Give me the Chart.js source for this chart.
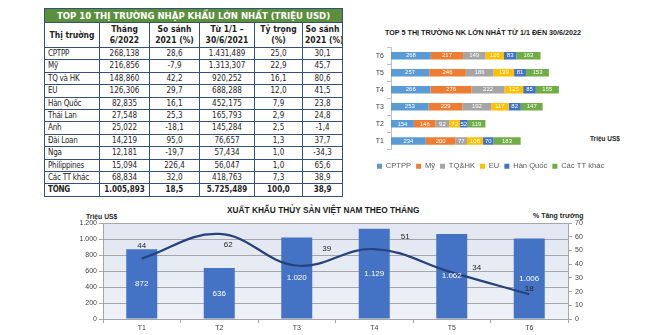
<!DOCTYPE html>
<html>
<head>
<meta charset="utf-8">
<script src="https://cdn.jsdelivr.net/npm/chart.js@4.4.0/dist/chart.umd.min.js"></script>
<style>
    body { margin: 0; width: 650px; height: 335px; background: #fff; position: relative; overflow: hidden; font-family: "Liberation Sans", Arial, sans-serif; }
    .abs { position: absolute; white-space: nowrap; line-height: 1; }
    #tbl { position: absolute; left: 44px; top: 8px; border-collapse: collapse; table-layout: fixed; width: 298px;
           font-family: "Liberation Sans Narrow", "DejaVu Sans Condensed", sans-serif; font-size: 8px; color: #1e1e1e; }
    #tbl td, #tbl th { border: 1px solid #35507c; padding: 0 2px; text-align: center; overflow: hidden; white-space: nowrap; }
    #tbl th.title { background: #5a8f3c; color: #fff; font-size: 9.5px; height: 13px; line-height: 13px; }
    #tbl th.head { height: 24px; font-size: 8.5px; line-height: 11px; }
    #tbl td { height: 11.4px; line-height: 11.4px; }
    #tbl td.name { text-align: left; padding-left: 3px; letter-spacing: -0.25px; }
    #tbl tr.total td { font-weight: bold; }
    canvas { position: absolute; }
</style>
</head>
<body>

<table id="tbl">
    <colgroup>
        <col style="width:55px"><col style="width:50px"><col style="width:50px"><col style="width:55px"><col style="width:48px"><col style="width:40px">
    </colgroup>
    <thead>
        <tr><th class="title" colspan="6">TOP 10 THỊ TRƯỜNG NHẬP KHẨU LỚN NHẤT (TRIỆU USD)</th></tr>
        <tr>
            <th class="head">Thị trường</th>
            <th class="head">Tháng<br>6/2022</th>
            <th class="head">So sánh<br>2021 (%)</th>
            <th class="head">Từ 1/1 –<br>30/6/2021</th>
            <th class="head">Tỷ trọng<br>(%)</th>
            <th class="head">So sánh<br>2021 (%)</th>
        </tr>
    </thead>
    <tbody id="rows"></tbody>
</table>

<div class="abs" style="left:385px;top:29px;font-size:7.2px;font-weight:bold;color:#1a1a1a;">TOP 5 THỊ TRƯỜNG NK LỚN NHẤT TỪ 1/1 ĐẾN 30/6/2022</div>
<div class="abs" style="left:590px;top:136px;font-size:6.5px;font-weight:bold;color:#262626;">Triệu US$</div>
<canvas id="top5" width="290" height="140" style="left:360px;top:40px;"></canvas>

<div class="abs" style="left:227px;top:206px;font-size:8.3px;font-weight:bold;color:#1a1a1a;">XUẤT KHẨU THỦY SẢN VIỆT NAM THEO THÁNG</div>
<div class="abs" style="left:86px;top:214px;font-size:6.8px;font-weight:bold;color:#262626;">Triệu US$</div>
<div class="abs" style="left:533px;top:212px;font-size:7px;font-weight:bold;color:#262626;">% Tăng trưởng</div>
<canvas id="monthly" width="650" height="135" style="left:0;top:200px;"></canvas>

<script>
// table data (triệu USD)
const markets = ['CPTPP', 'Mỹ', 'TQ và HK', 'EU', 'Hàn Quốc', 'Thái Lan', 'Anh', 'Đài Loan', 'Nga', 'Philippines', 'Các TT khác'];
const june2022 = [268.138, 216.856, 148.860, 126.306, 82.835, 27.548, 25.022, 14.219, 12.181, 15.094, 68.834];
const juneChange = [28.6, -7.9, 42.2, 29.7, 16.1, 25.3, -18.1, 95.0, -19.7, 226.4, 32.0];
const halfYear = [1431.489, 1313.307, 920.252, 688.288, 452.175, 165.793, 145.284, 76.657, 57.434, 56.047, 418.763];
const sharePct = [25.0, 22.9, 16.1, 12.0, 7.9, 2.9, 2.5, 1.3, 1.0, 1.0, 7.3];
const halfChange = [30.1, 45.7, 80.6, 41.5, 23.8, 24.8, -1.4, 37.7, -34.3, 65.6, 38.9];
const totalRow = [1005.893, 18.5, 5725.489, 100.0, 38.9];

// top 5 markets per month
const months = ['T1', 'T2', 'T3', 'T4', 'T5', 'T6'];
const regions = ['CPTPP', 'Mỹ', 'TQ&HK', 'EU', 'Hàn Quốc', 'Các TT khác'];
const cptpp = [234, 154, 253, 266, 257, 268];
const usa = [200, 146, 229, 276, 246, 217];
const chinaHk = [77, 92, 192, 222, 186, 149];
const eu = [108, 72, 117, 125, 139, 126];
const korea = [70, 52, 82, 85, 81, 83];
const others = [183, 119, 147, 155, 153, 163];
const stackTicks = [0, 500, 1000, 1500];

// monthly exports
const exportValue = [872, 636, 1020, 1129, 1062, 1006];
const growthPct = [44, 62, 39, 51, 34, 18];

const regionColors = ['#5B9BD5', '#ED7D31', '#A5A5A5', '#FFC000', '#4472C4', '#70AD47'];
const growthLabelOffset = [[0, -13], [9, 11], [30, -17], [31, -12], [25, -5], [0, -6]];

function fmtNum(v, d) {
    var parts = Math.abs(v).toFixed(d).split('.');
    parts[0] = parts[0].replace(/\B(?=(\d{3})+(?!\d))/g, '.');
    return (v < 0 ? '-' : '') + parts.join(',');
}

// fill table
var tbody = document.getElementById('rows');
markets.forEach(function (m, i) {
    var tr = document.createElement('tr');
    tr.innerHTML = '<td class="name">' + m + '</td>' +
        '<td>' + fmtNum(june2022[i], 3) + '</td>' +
        '<td>' + fmtNum(juneChange[i], 1) + '</td>' +
        '<td>' + fmtNum(halfYear[i], 3) + '</td>' +
        '<td>' + fmtNum(sharePct[i], 1) + '</td>' +
        '<td>' + fmtNum(halfChange[i], 1) + '</td>';
    tbody.appendChild(tr);
});
var trTotal = document.createElement('tr');
trTotal.className = 'total';
trTotal.innerHTML = '<td class="name">TỔNG</td>' +
    '<td>' + fmtNum(totalRow[0], 3) + '</td>' +
    '<td>' + fmtNum(totalRow[1], 1) + '</td>' +
    '<td>' + fmtNum(totalRow[2], 3) + '</td>' +
    '<td>' + fmtNum(totalRow[3], 1) + '</td>' +
    '<td>' + fmtNum(totalRow[4], 1) + '</td>';
tbody.appendChild(trTotal);

// white numbers inside stacked segments
const stackLabels = {
    id: 'stackLabels',
    afterDatasetsDraw(chart) {
        const ctx = chart.ctx;
        ctx.save();
        ctx.font = '6px "Liberation Sans", Arial, sans-serif';
        ctx.fillStyle = '#fff';
        ctx.textAlign = 'center';
        ctx.textBaseline = 'middle';
        chart.data.datasets.forEach((ds, i) => {
            chart.getDatasetMeta(i).data.forEach((bar, j) => {
                ctx.fillText(ds.data[j], (bar.x + bar.base) / 2, bar.y);
            });
        });
        ctx.restore();
    }
};

const stackValues = [cptpp, usa, chinaHk, eu, korea, others];

new Chart(document.getElementById('top5'), {
    type: 'bar',
    data: {
        labels: months,
        datasets: regions.map((r, i) => ({
            label: r,
            data: stackValues[i],
            backgroundColor: regionColors[i],
            barPercentage: 0.44,
            categoryPercentage: 1
        }))
    },
    options: {
        indexAxis: 'y',
        responsive: false,
        animation: false,
        layout: { padding: { top: 4.5, right: 36, left: 12, bottom: 0 } },
        scales: {
            x: {
                stacked: true, min: stackTicks[0], max: stackTicks[stackTicks.length - 1],
                afterBuildTicks: s => { s.ticks = stackTicks.map(v => ({ value: v })); },
                ticks: { callback: v => fmtNum(v, 0), font: { size: 7 }, color: '#595959', padding: 3 },
                grid: { display: false },
                border: { display: false },
                afterFit: s => { s.height = 8; }
            },
            y: {
                stacked: true, reverse: true,
                ticks: { font: { size: 7 }, color: '#404040', padding: 3 },
                grid: { drawOnChartArea: false, tickLength: 4, color: '#BFBFBF' },
                border: { color: '#BFBFBF' },
                afterFit: s => { s.width = 19; }
            }
        },
        plugins: {
            legend: {
                position: 'bottom',
                align: 'start',
                labels: { boxWidth: 5, boxHeight: 5, padding: 5, font: { size: 7.6 }, color: '#595959' }
            },
            tooltip: { enabled: false }
        }
    },
    plugins: [stackLabels]
});

// lavender plot background
const plotBg = {
    id: 'plotBg',
    beforeDraw(chart) {
        const { ctx, chartArea: a } = chart;
        const g = ctx.createLinearGradient(0, a.top, 0, a.bottom);
        g.addColorStop(0, '#E1E6F1');
        g.addColorStop(1, '#EEF1F7');
        ctx.save();
        ctx.fillStyle = g;
        ctx.fillRect(a.left, a.top, a.right - a.left, a.bottom - a.top);
        ctx.restore();
    }
};

const monthLabels = {
    id: 'monthLabels',
    afterDatasetsDraw(chart) {
        const ctx = chart.ctx;
        ctx.save();
        ctx.textAlign = 'center';
        ctx.textBaseline = 'middle';
        ctx.font = '8px "Liberation Sans", Arial, sans-serif';
        ctx.fillStyle = '#fff';
        chart.getDatasetMeta(1).data.forEach((bar, j) => {
            ctx.fillText(fmtNum(exportValue[j], 0), bar.x, (bar.y + bar.base) / 2);
        });
        ctx.fillStyle = '#262626';
        chart.getDatasetMeta(0).data.forEach((pt, j) => {
            const off = growthLabelOffset[j];
            ctx.fillText(growthPct[j], pt.x + off[0], pt.y + off[1]);
        });
        ctx.restore();
    }
};

new Chart(document.getElementById('monthly'), {
    type: 'bar',
    data: {
        labels: months,
        datasets: [{
            type: 'line',
            label: '% Tăng trưởng',
            data: growthPct,
            yAxisID: 'y1',
            borderColor: '#25427C',
            borderWidth: 2.2,
            tension: 0.4,
            pointRadius: 0,
            order: 0
        }, {
            type: 'bar',
            label: 'Triệu US$',
            data: exportValue,
            yAxisID: 'y',
            backgroundColor: '#4472C4',
            barPercentage: 0.4,
            categoryPercentage: 1,
            order: 1
        }]
    },
    options: {
        responsive: false,
        animation: false,
        layout: { padding: { top: 23, left: 0, right: 0, bottom: 0 } },
        scales: {
            x: {
                grid: { drawOnChartArea: false, tickLength: 4, color: '#A6A6A6', offset: true },
                border: { color: '#A6A6A6' },
                ticks: { font: { size: 7 }, color: '#404040', padding: 1 },
                afterFit: s => { s.height = 16; }
            },
            y: {
                position: 'left', min: 0, max: 1200,
                ticks: { stepSize: 200, callback: v => fmtNum(v, 0), font: { size: 7 }, color: '#404040', padding: 2 },
                grid: { color: '#A6A6A6', tickLength: 4 },
                border: { color: '#A6A6A6' },
                afterFit: s => { s.width = 103; }
            },
            y1: {
                position: 'right', min: 0, max: 70,
                ticks: { stepSize: 10, font: { size: 7 }, color: '#404040', padding: 3 },
                grid: { drawOnChartArea: false, tickLength: 4, color: '#A6A6A6' },
                border: { color: '#A6A6A6' },
                afterFit: s => { s.width = 82; }
            }
        },
        plugins: { legend: { display: false }, tooltip: { enabled: false } }
    },
    plugins: [plotBg, monthLabels]
});
</script>
</body>
</html>
